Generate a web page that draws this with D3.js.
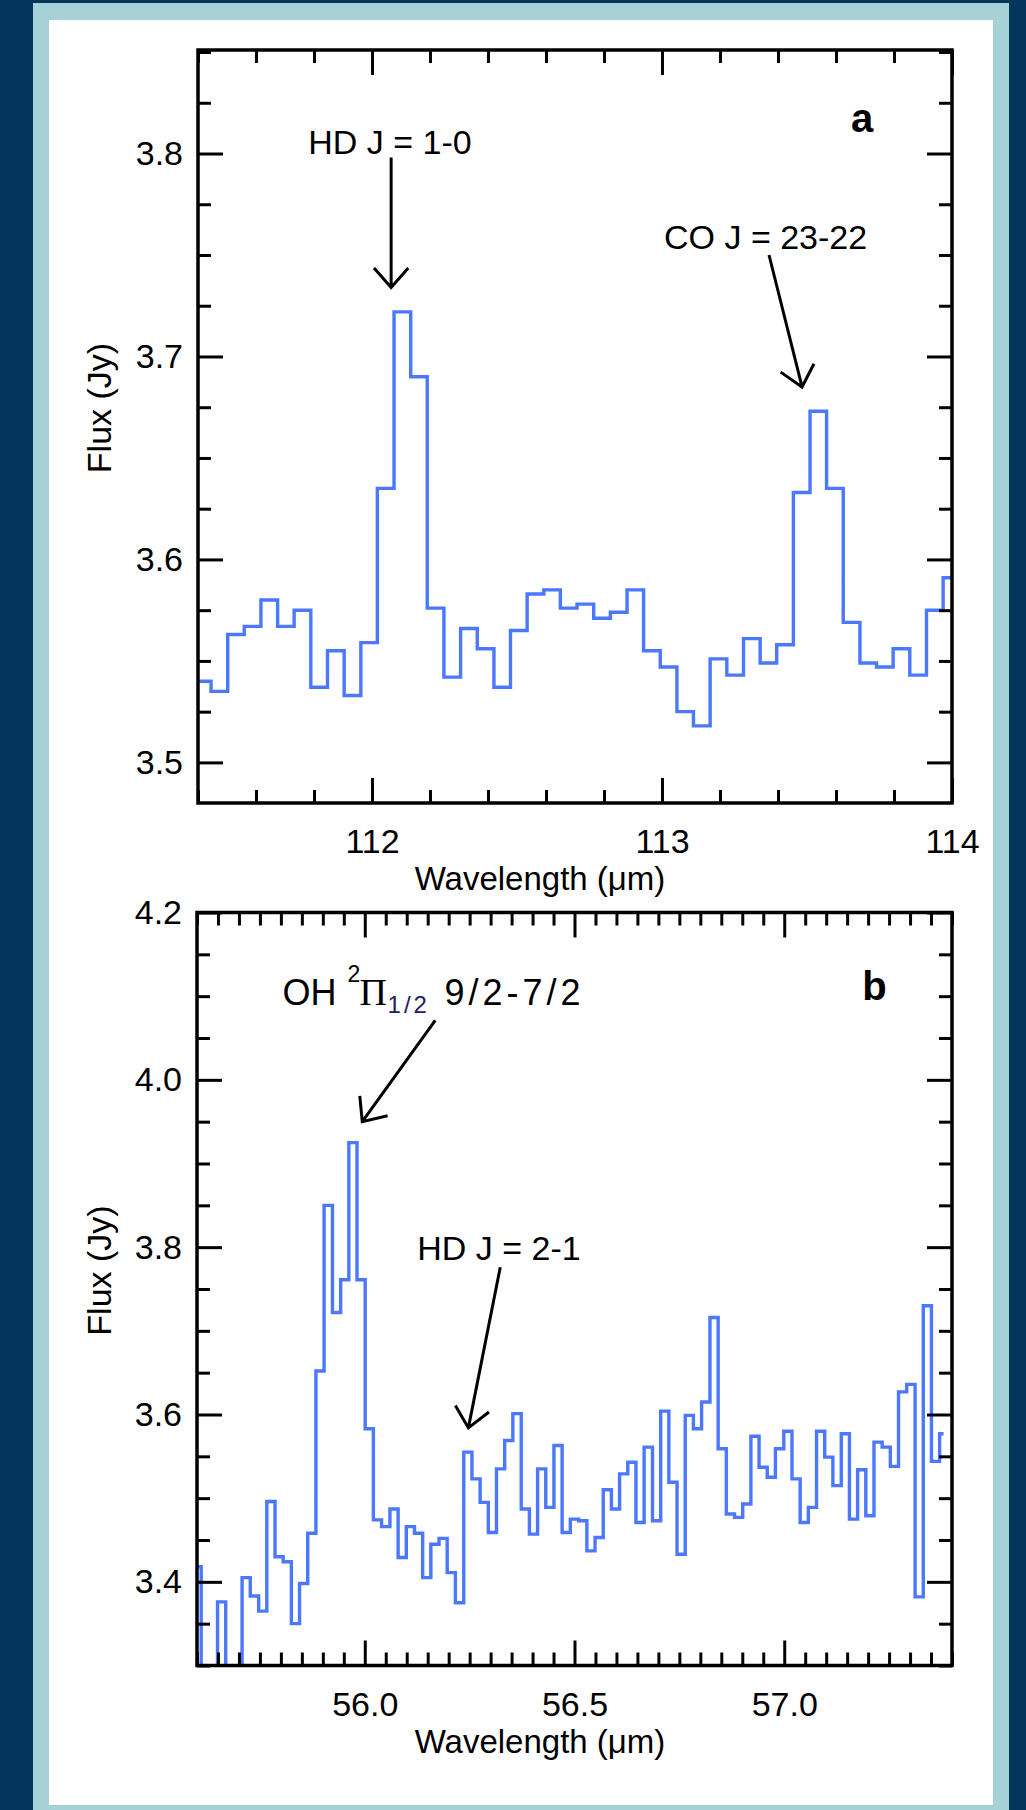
<!DOCTYPE html>
<html>
<head>
<meta charset="utf-8">
<script src="https://cdn.jsdelivr.net/npm/d3@7"></script>
<style>
  body { margin: 0; background: #04365b; }
  svg { display: block; }
</style>
</head>
<body>
<div id="mount"></div>
<script>
'use strict';

// panel a : HD J=1-0 and CO J=23-22 (wavelength in um, flux in Jy)
const waveA = [111.416, 111.474, 111.531, 111.588, 111.646, 111.703, 111.760, 111.818, 111.875, 111.933,
               111.990, 112.047, 112.105, 112.162, 112.219, 112.277, 112.334, 112.392, 112.449, 112.506,
               112.564, 112.621, 112.678, 112.736, 112.793, 112.851, 112.908, 112.965, 113.023, 113.080,
               113.137, 113.195, 113.252, 113.310, 113.367, 113.424, 113.482, 113.539, 113.596, 113.654,
               113.711, 113.768, 113.826, 113.883, 113.941, 113.998];
const fluxA = [3.540, 3.535, 3.563, 3.567, 3.580, 3.567, 3.575, 3.537, 3.555, 3.533,
               3.559, 3.635, 3.722, 3.690, 3.576, 3.542, 3.566, 3.556, 3.537, 3.565,
               3.583, 3.585, 3.576, 3.578, 3.571, 3.574, 3.585, 3.555, 3.547, 3.525,
               3.518, 3.551, 3.543, 3.561, 3.549, 3.558, 3.633, 3.673, 3.635, 3.569,
               3.549, 3.547, 3.556, 3.543, 3.575, 3.591];

// panel b : OH 2Pi1/2 9/2-7/2 and HD J=2-1
const waveB = [55.600, 55.620, 55.639, 55.659, 55.678, 55.698, 55.717, 55.737, 55.757, 55.776,
               55.796, 55.815, 55.835, 55.854, 55.874, 55.893, 55.913, 55.933, 55.952, 55.972,
               55.991, 56.011, 56.030, 56.050, 56.070, 56.089, 56.109, 56.128, 56.148, 56.167,
               56.187, 56.206, 56.226, 56.246, 56.265, 56.285, 56.304, 56.324, 56.343, 56.363,
               56.383, 56.402, 56.422, 56.441, 56.461, 56.480, 56.500, 56.520, 56.539, 56.559,
               56.578, 56.598, 56.617, 56.637, 56.656, 56.676, 56.696, 56.715, 56.735, 56.754,
               56.774, 56.793, 56.813, 56.833, 56.852, 56.872, 56.891, 56.911, 56.930, 56.950,
               56.969, 56.989, 57.009, 57.028, 57.048, 57.067, 57.087, 57.106, 57.126, 57.146,
               57.165, 57.185, 57.204, 57.224, 57.243, 57.263, 57.282, 57.302, 57.322, 57.341,
               57.361, 57.380];
const fluxB = [3.418, 3.250, 3.250, 3.376, 3.250, 3.250, 3.405, 3.383, 3.365, 3.496,
               3.430, 3.424, 3.350, 3.398, 3.458, 3.652, 3.850, 3.722, 3.761, 3.925,
               3.761, 3.583, 3.474, 3.466, 3.487, 3.429, 3.466, 3.458, 3.405, 3.445,
               3.452, 3.411, 3.375, 3.555, 3.523, 3.495, 3.459, 3.535, 3.569, 3.601,
               3.487, 3.457, 3.535, 3.489, 3.563, 3.459, 3.475, 3.473, 3.437, 3.453,
               3.510, 3.487, 3.529, 3.543, 3.471, 3.561, 3.473, 3.604, 3.519, 3.433,
               3.599, 3.583, 3.615, 3.716, 3.559, 3.481, 3.477, 3.493, 3.574, 3.537,
               3.525, 3.559, 3.580, 3.523, 3.471, 3.489, 3.580, 3.549, 3.515, 3.577,
               3.475, 3.534, 3.479, 3.567, 3.561, 3.538, 3.627, 3.636, 3.382, 3.730,
               3.544, 3.577];

// labelled ticks
const xMajorA = [112, 113, 114];
const yMajorA = [3.5, 3.6, 3.7, 3.8];
const xMajorB = [56.0, 56.5, 57.0];
const yMajorB = [3.4, 3.6, 3.8, 4.0, 4.2];

const W = 1026, H = 1810;
const FONT = '"Liberation Sans", Arial, Helvetica, sans-serif';
const BLUE = '#4b78ff';

const svg = d3.select('#mount').append('svg')
    .attr('width', W)
    .attr('height', H);

// slide frame: navy, teal band, white card
svg.append('rect').attr('width', W).attr('height', H).attr('fill', '#04365b');
svg.append('rect').attr('x', 33).attr('y', 3).attr('width', 976).attr('height', H).attr('fill', '#a4d2d6');
svg.append('rect').attr('x', 49).attr('y', 20).attr('width', 944).attr('height', 1785).attr('fill', '#fff');

function minorTicks(domain, step, major) {
  const k0 = Math.ceil(domain[0] / step - 1e-6), k1 = Math.floor(domain[1] / step + 1e-6);
  return d3.range(k0, k1 + 1).map(k => +(k * step).toFixed(4))
    .filter(v => !major.some(m => Math.abs(m - v) < step / 10));
}

function arrow(g, x, y, a) {
  const x1 = x(a.from[0]), y1 = y(a.from[1]), x2 = x(a.to[0]), y2 = y(a.to[1]);
  const ang = Math.atan2(y1 - y2, x1 - x2);
  const len = 26, spread = 0.72;
  const p = d3.path();
  p.moveTo(x1, y1); p.lineTo(x2, y2);
  p.moveTo(x2 + len * Math.cos(ang - spread), y2 + len * Math.sin(ang - spread));
  p.lineTo(x2, y2);
  p.lineTo(x2 + len * Math.cos(ang + spread), y2 + len * Math.sin(ang + spread));
  g.append('path').attr('d', p.toString())
      .attr('fill', 'none').attr('stroke', '#000').attr('stroke-width', 3);
}

function drawPanel(p) {
  const g = svg.append('g').attr('transform', `translate(${p.left},${p.top})`);
  const x = d3.scaleLinear().domain(p.xDomain).range([0, p.w]);
  const y = d3.scaleLinear().domain(p.yDomain).range([p.h, 0]);

  g.append('clipPath').attr('id', 'clip-' + p.id)
    .append('rect').attr('width', p.w).attr('height', p.h);

  // histogram-style spectrum; first bin gets its left half too
  const pts = p.wave.map((w, i) => [w, p.flux[i]]);
  const half = (p.wave[1] - p.wave[0]) / 2;
  pts.unshift([p.wave[0] - half, p.flux[0]]);
  g.append('path').datum(pts)
      .attr('clip-path', `url(#clip-${p.id})`)
      .attr('fill', 'none')
      .attr('stroke', BLUE)
      .attr('stroke-width', 3.4)
      .attr('stroke-linejoin', 'miter')
      .attr('d', d3.line().x(d => x(d[0])).y(d => y(d[1])).curve(d3.curveStep));

  const xMinor = minorTicks(p.xDomain, p.xStep, p.xMajor);
  const yMinor = minorTicks(p.yDomain, p.yStep, p.yMajor);
  const sides = [
    { gen: d3.axisBottom, s: x, tr: `translate(0,${p.h})`, major: p.xMajor, minor: xMinor, fmt: p.xFmt, pad: 26 },
    { gen: d3.axisTop, s: x, tr: 'translate(0,0)', major: p.xMajor, minor: xMinor, fmt: null, pad: 0 },
    { gen: d3.axisLeft, s: y, tr: 'translate(0,0)', major: p.yMajor, minor: yMinor, fmt: p.yFmt, pad: 15 },
    { gen: d3.axisRight, s: y, tr: `translate(${p.w},0)`, major: p.yMajor, minor: yMinor, fmt: null, pad: 0 }
  ];
  sides.forEach(sd => {
    g.append('g').attr('transform', sd.tr)
      .call(sd.gen(sd.s).tickValues(sd.minor).tickSize(-13).tickSizeOuter(0).tickFormat(''));
    g.append('g').attr('transform', sd.tr)
      .call(sd.gen(sd.s).tickValues(sd.major).tickSize(-25).tickSizeOuter(0)
        .tickPadding(sd.pad).tickFormat(sd.fmt ? d3.format(sd.fmt) : ''));
  });
  g.selectAll('.domain').remove();
  g.selectAll('.tick line').attr('stroke', '#000').attr('stroke-width', 3);
  g.selectAll('.tick text')
      .attr('fill', '#000')
      .style('font-family', FONT)
      .style('font-size', '34px');

  // frame
  g.append('rect').attr('width', p.w).attr('height', p.h)
      .attr('fill', 'none').attr('stroke', '#000').attr('stroke-width', 3.5);

  // axis titles
  g.append('text')
      .attr('x', 540 - p.left).attr('y', p.h + 87)
      .attr('text-anchor', 'middle')
      .style('font-family', FONT).style('font-size', '33px')
      .text('Wavelength (μm)');
  g.append('text')
      .attr('transform', `translate(${111 - p.left},${358}) rotate(-90)`)
      .attr('text-anchor', 'middle')
      .style('font-family', FONT).style('font-size', '34px')
      .text('Flux (Jy)');

  // annotations
  p.labels.forEach(l => {
    g.append('text').attr('x', x(l.at[0])).attr('y', y(l.at[1]))
        .style('font-family', FONT).style('font-size', '34px')
        .text(l.text);
  });
  p.arrows.forEach(a => arrow(g, x, y, a));
  g.append('text').attr('x', x(p.tag.at[0])).attr('y', y(p.tag.at[1]))
      .style('font-family', FONT).style('font-size', '40px').style('font-weight', 'bold')
      .text(p.tag.text);

  return { g, x, y };
}

drawPanel({
  id: 'a', left: 198, top: 50, w: 754, h: 753,
  xDomain: [111.4, 114], yDomain: [3.48, 3.851],
  xStep: 0.2, yStep: 0.025,
  xMajor: xMajorA, yMajor: yMajorA, xFmt: 'd', yFmt: '.1f',
  wave: waveA, flux: fluxA,
  labels: [
    { text: 'HD J = 1-0', at: [111.78, 3.800] },
    { text: 'CO J = 23-22', at: [113.007, 3.753] }
  ],
  arrows: [
    { from: [112.066, 3.798], to: [112.066, 3.734] },
    { from: [113.369, 3.750], to: [113.483, 3.685] }
  ],
  tag: { text: 'a', at: [113.652, 3.8105] }
});

const pb = drawPanel({
  id: 'b', left: 197, top: 912.5, w: 755, h: 753,
  xDomain: [55.6, 57.4], yDomain: [3.3, 4.2],
  xStep: 0.05, yStep: 0.05,
  xMajor: xMajorB, yMajor: yMajorB, xFmt: '.1f', yFmt: '.1f',
  wave: waveB, flux: fluxB,
  labels: [
    { text: 'HD J = 2-1', at: [56.125, 3.785] }
  ],
  arrows: [
    { from: [56.168, 4.071], to: [55.994, 3.950] },
    { from: [56.323, 3.776], to: [56.247, 3.584] }
  ],
  tag: { text: 'b', at: [57.186, 4.096] }
});

// OH label with super/subscripts
const ohX = pb.x(55.804), ohY = pb.y(4.090);
const oh = pb.g.append('text').style('font-family', FONT).style('font-size', '36px');
oh.append('tspan').attr('x', ohX).attr('y', ohY).text('OH');
oh.append('tspan').attr('x', ohX + 65).attr('y', ohY - 23).style('font-size', '23px').text('2');
oh.append('tspan').attr('x', ohX + 77).attr('y', ohY)
    .style('font-family', '"Liberation Serif", "DejaVu Serif", serif').style('font-size', '38px').text('Π');
oh.append('tspan').attr('x', ohX + 105).attr('y', ohY + 8)
    .style('font-size', '24px').style('letter-spacing', '3px').attr('fill', '#202060').text('1/2');
oh.append('tspan').attr('x', ohX + 162).attr('y', ohY)
    .style('letter-spacing', '4px').text('9/2-7/2');
</script>
</body>
</html>
